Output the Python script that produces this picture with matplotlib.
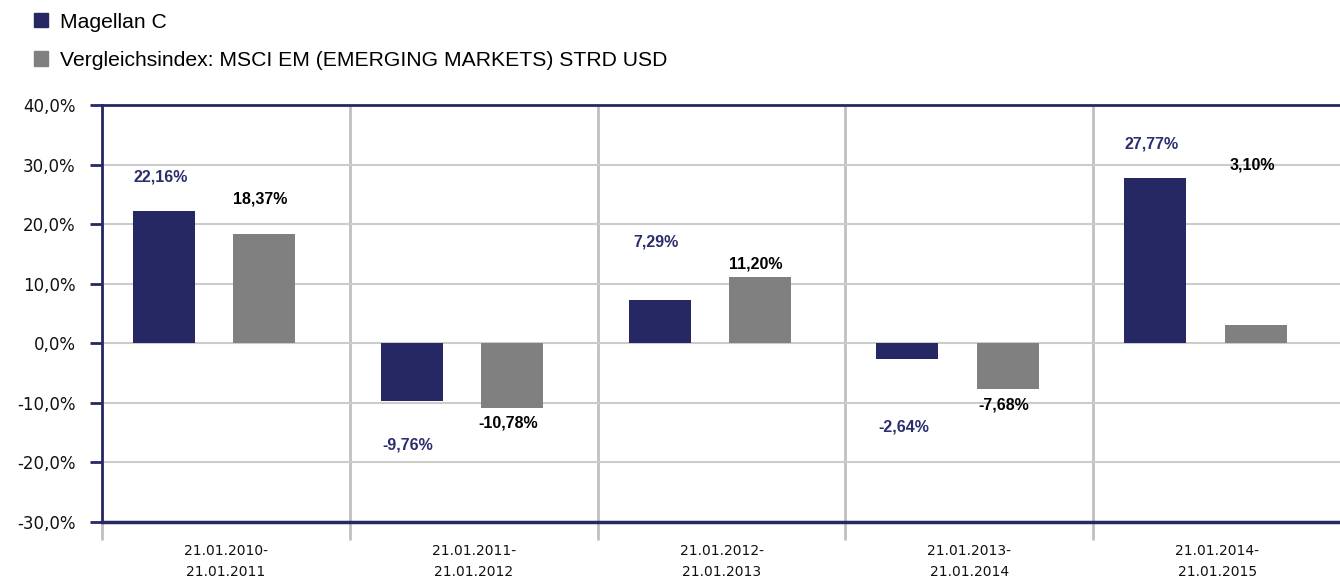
"""Yearly performance: Magellan C vs. MSCI EM benchmark."""
import matplotlib
matplotlib.use("Agg")
import matplotlib.pyplot as plt
from matplotlib.patches import Patch

periods = [
    "21.01.2010-\n21.01.2011",
    "21.01.2011-\n21.01.2012",
    "21.01.2012-\n21.01.2013",
    "21.01.2013-\n21.01.2014",
    "21.01.2014-\n21.01.2015",
]
fund_name = "Magellan C"
index_name = "Vergleichsindex: MSCI EM (EMERGING MARKETS) STRD USD"
fund_values = [22.16, -9.76, 7.29, -2.64, 27.77]
index_values = [18.37, -10.78, 11.20, -7.68, 3.10]

# where the value labels sit (data units), as in the original export
fund_label_y = [27.9, -17.0, 17.0, -14.1, 33.4]
index_label_y = [24.3, -13.4, 13.3, -10.4, 29.9]

NAVY = "#262864"
GREY = "#808080"
GRID = "#cccccc"
DIVIDER = "#c0c0c0"


def pct(v):
    return f"{v:.2f}%".replace(".", ",")


fig = plt.figure(figsize=(13.4, 5.79), dpi=100)
ax = fig.add_axes([0.0761, 0.0984, 0.9247, 0.7203])

x = list(range(len(periods)))
w = 0.25
fund_x = [i - 0.25 for i in x]
index_x = [i + 0.155 for i in x]
ax.bar(fund_x, fund_values, width=w, color=NAVY, zorder=3)
ax.bar(index_x, index_values, width=w, color=GREY, zorder=3)

for xi, yi, v in zip(fund_x, fund_label_y, fund_values):
    ax.text(xi - 0.015, yi, pct(v), ha="center", va="center", color="#2b2d6e",
            fontsize=11.5, fontweight="bold", family="Liberation Sans", zorder=4)
for xi, yi, v in zip(index_x, index_label_y, index_values):
    ax.text(xi - 0.015, yi, pct(v), ha="center", va="center", color="black",
            fontsize=11.5, fontweight="bold", family="Liberation Sans", zorder=4)

ax.set_xlim(-0.5, len(periods) - 0.5)
ax.set_ylim(-30, 40)
ax.set_yticks(range(-30, 41, 10))
ax.set_yticklabels([f"{t:.1f}%".replace(".", ",") for t in range(-30, 41, 10)],
                   fontsize=12, color="#111111")
ax.yaxis.grid(True, color=GRID, linewidth=1.5, zorder=0)
ax.tick_params(axis="y", length=9, width=2, color=NAVY, pad=10)

ax.set_xticks(x)
ax.set_xticklabels(periods, fontsize=10, linespacing=1.65, color="#111111")
ax.set_xticks([i - 0.5 for i in range(len(periods) + 1)], minor=True)
ax.xaxis.grid(True, which="minor", color=DIVIDER, linewidth=2, zorder=0)
ax.tick_params(axis="x", which="major", length=0, pad=15.5)
ax.tick_params(axis="x", which="minor", length=13, width=2, color=DIVIDER)

for side in ("left", "top"):
    ax.spines[side].set_color(NAVY)
    ax.spines[side].set_linewidth(2)
ax.spines["bottom"].set_color(NAVY)
ax.spines["bottom"].set_linewidth(2.5)
ax.spines["right"].set_visible(False)
ax.set_axisbelow(True)

handles = [Patch(color=NAVY, label=fund_name), Patch(color=GREY, label=index_name)]
fig.legend(handles=handles, loc="upper left", bbox_to_anchor=(0.0148, 1.002),
           frameon=False, prop={"family": "Liberation Sans", "size": 15.2},
           handlelength=0.67, handleheight=0.67, handletextpad=0.6,
           labelspacing=0.92, borderaxespad=0.25)

fig.savefig("out.png", dpi=100)
